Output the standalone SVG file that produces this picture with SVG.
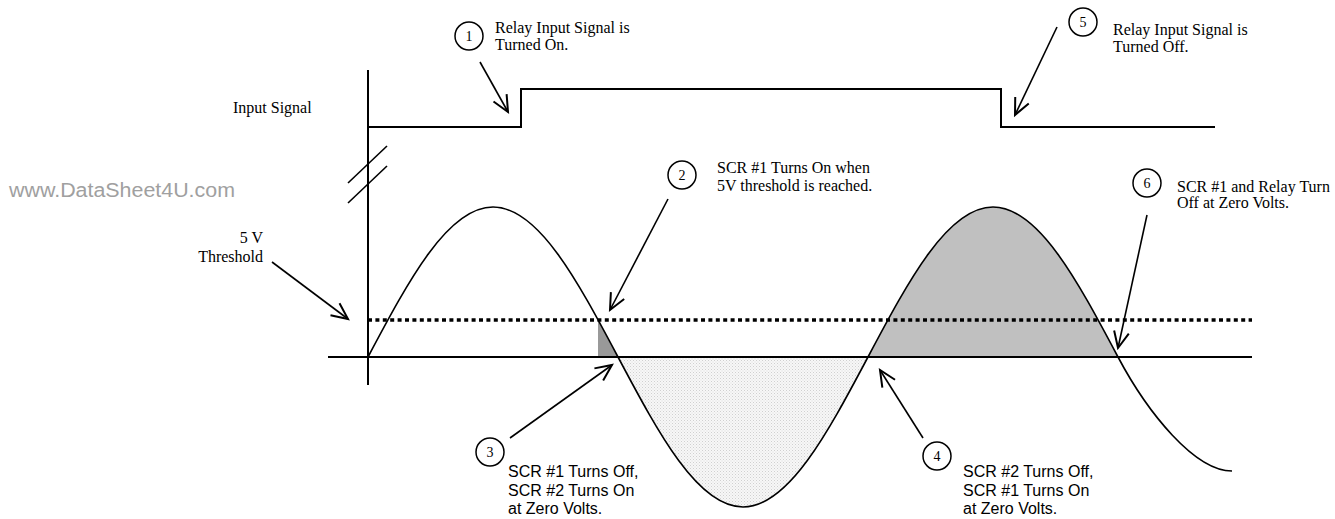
<svg xmlns="http://www.w3.org/2000/svg" width="1335" height="519" viewBox="0 0 1335 519">
<style>
.ln{fill:none;stroke:#000;stroke-width:2}
.wave{fill:none;stroke:#000;stroke-width:1.6}
.arr{fill:none;stroke:#000;stroke-width:1.6;marker-end:url(#ah)}
.cir{fill:#fff;stroke:#000;stroke-width:1.5}
.num{font-family:"Liberation Serif",serif;font-size:14px;text-anchor:middle}
.ser{font-family:"Liberation Serif",serif;font-size:16px;fill:#000}
.san{font-family:"Liberation Sans",Arial,sans-serif;font-size:16px;fill:#000}
.wm{font-family:"Liberation Sans",Arial,sans-serif;font-size:19.5px;fill:#a0a0a0}
</style>
<defs>
<marker id="ah" markerUnits="userSpaceOnUse" markerWidth="20" markerHeight="20" viewBox="-14 -8 16 16" refX="0" refY="0" orient="auto">
<path d="M-13,-6 L0,0 L-13,6" fill="none" stroke="#000" stroke-width="1.6"/>
</marker>
<pattern id="stip" width="3" height="3" patternUnits="userSpaceOnUse">
<rect width="3" height="3" fill="#f7f7f7"/>
<rect width="1" height="1" fill="#d0d0d0"/>
<rect x="1.5" y="1.5" width="1" height="1" fill="#dcdcdc"/>
</pattern>
</defs>
<rect width="1335" height="519" fill="#fff"/>
<text class="wm" x="9" y="197" textLength="226" lengthAdjust="spacingAndGlyphs">www.DataSheet4U.com</text>
<g id="shading">
<path d="M598,320 L598,357 L618,357 Q608,339 598,320 Z" fill="#999"/>
<path d="M618,357 C658.8,433.8 697.8,507 743,507 C788.2,507 827.2,433.8 868,357 Z" fill="url(#stip)"/>
<path d="M868,357 C908.8,280.2 947.8,207 993,207 C1038.2,207 1077.2,280.2 1118,357 Z" fill="#c0c0c0"/>
</g>
<g id="axes">
<line class="ln" x1="368" y1="70" x2="368" y2="385"/>
<line class="ln" x1="328" y1="357" x2="1252" y2="357"/>
<line x1="348" y1="183" x2="387" y2="146" stroke="#000" stroke-width="1.6"/>
<line x1="348" y1="203" x2="387" y2="166" stroke="#000" stroke-width="1.6"/>
<line x1="368" y1="320" x2="1252" y2="320" stroke="#000" stroke-width="3.5" stroke-dasharray="4 3.4"/>
</g>
<g id="input-signal">
<path class="ln" d="M368,127 L521,127 L521,89 L1001,89 L1001,127 L1215,127"/>
<text class="ser" x="233" y="113">Input Signal</text>
</g>
<g id="sine">
<path class="wave" d="M368,357 C408.8,280.2 447.8,207 493,207 C538.2,207 577.2,280.2 618,357 C658.8,433.8 697.8,507 743,507 C788.2,507 827.2,433.8 868,357 C908.8,280.2 947.8,207 993,207 C1038.2,207 1077.2,280.2 1118,357 C1148,413.5 1195,471 1232,471"/>
</g>
<g id="threshold-label">
<text class="ser" x="263" y="243" text-anchor="end">5 V</text>
<text class="ser" x="263" y="262" text-anchor="end">Threshold</text>
</g>
<g id="connectors">
<line class="arr" x1="272" y1="262" x2="348" y2="319"/>
<line class="arr" x1="480" y1="62" x2="508" y2="112"/>
<line class="arr" x1="1057" y1="27" x2="1015" y2="115"/>
<line class="arr" x1="668" y1="199" x2="610" y2="310"/>
<line class="arr" x1="1147" y1="215" x2="1118" y2="348"/>
<line class="arr" x1="510" y1="438" x2="612" y2="365"/>
<line class="arr" x1="923" y1="438" x2="880" y2="370"/>
</g>
<g id="note1">
<circle class="cir" cx="469" cy="36" r="14"/>
<text class="num" x="469" y="41">1</text>
<text class="ser" x="495" y="33">Relay Input Signal is</text>
<text class="ser" x="495" y="50">Turned On.</text>
</g>
<g id="note5">
<circle class="cir" cx="1083" cy="22" r="14"/>
<text class="num" x="1083" y="27">5</text>
<text class="ser" x="1113" y="35">Relay Input Signal is</text>
<text class="ser" x="1113" y="52">Turned Off.</text>
</g>
<g id="note2">
<circle class="cir" cx="682" cy="175" r="14"/>
<text class="num" x="682" y="180">2</text>
<text class="ser" x="717" y="173">SCR #1 Turns On when</text>
<text class="ser" x="717" y="191">5V threshold is reached.</text>
</g>
<g id="note6">
<circle class="cir" cx="1147" cy="183" r="14"/>
<text class="num" x="1147" y="188">6</text>
<text class="ser" x="1177" y="192">SCR #1 and Relay Turn</text>
<text class="ser" x="1177" y="208">Off at Zero Volts.</text>
</g>
<g id="note3">
<circle class="cir" cx="490" cy="452" r="14"/>
<text class="num" x="490" y="457">3</text>
<text class="san" x="508" y="477">SCR #1 Turns Off,</text>
<text class="san" x="508" y="496">SCR #2 Turns On</text>
<text class="san" x="508" y="514">at Zero Volts.</text>
</g>
<g id="note4">
<circle class="cir" cx="937" cy="456" r="14"/>
<text class="num" x="937" y="461">4</text>
<text class="san" x="963" y="477">SCR #2 Turns Off,</text>
<text class="san" x="963" y="496">SCR #1 Turns On</text>
<text class="san" x="963" y="514">at Zero Volts.</text>
</g>
</svg>
